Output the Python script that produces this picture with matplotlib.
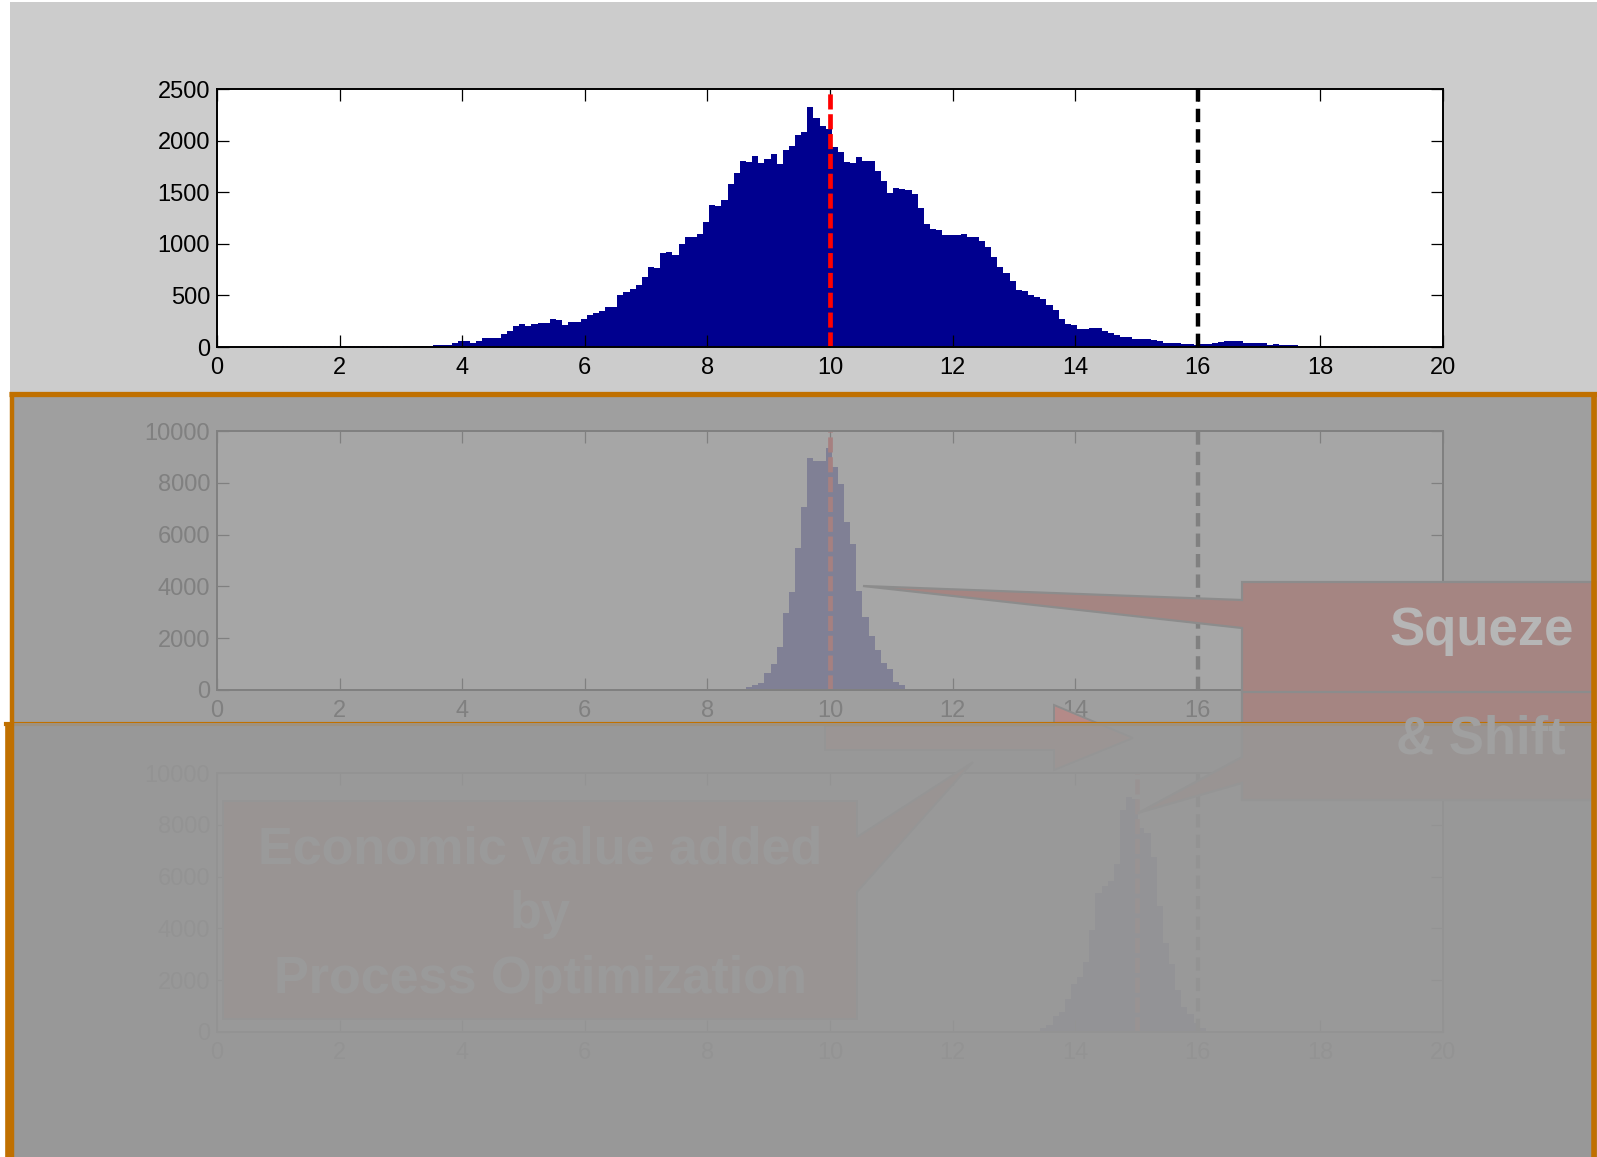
import numpy as np
import matplotlib.pyplot as plt
from matplotlib.patches import Rectangle, Polygon

plt.rcParams['font.family'] = ['Liberation Sans', 'DejaVu Sans']

# bins shared by the three histograms (width 0.1)
bin_edges = np.round(0.93 + 0.1 * np.arange(182), 2)

# current process (top panel), one count per bin
current_counts = [0] * 14 + [
    1, 1, 1, 2, 2, 3, 3, 5,
    6, 8, 10, 12, 19, 19, 20, 43, 55,
    55, 43, 55, 84, 84, 86, 130, 155, 204, 227,
    204, 227, 228, 236, 275, 264, 217, 246, 247, 275,
    314, 327, 349, 385, 386, 508, 533, 566, 605, 678,
    775, 765, 915, 925, 895, 995, 1070, 1063, 1092, 1215,
    1373, 1367, 1425, 1583, 1690, 1802, 1792, 1851, 1780, 1825,
    1870, 1777, 1909, 1948, 2058, 2084, 2325, 2216, 2145, 2116,
    1935, 1889, 1792, 1780, 1838, 1806, 1802, 1703, 1606, 1496,
    1545, 1535, 1518, 1480, 1351, 1196, 1147, 1131, 1085, 1085,
    1086, 1092, 1063, 1070, 1027, 973, 876, 779, 714, 643,
    553, 540, 501, 482, 462, 407, 359, 275, 227, 210,
    172, 172, 188, 185, 155, 133, 113, 94, 94, 81,
    81, 75, 65, 55, 43, 43, 42, 30, 26, 20,
    33, 33, 34, 48, 55, 55, 54, 43, 43, 42,
    40, 16, 29, 19, 19, 18, 8, 6, 5, 5,
    4, 3, 3, 2, 2, 1, 1, 1, 1, 1]

# squeezed process (middle panel), starting at bin 75
squeezed_first = 75
squeezed_counts = [27, 51, 116, 193, 283, 669, 1004, 1647, 2985, 3783, 5494,
                   7077, 8942, 8853, 8860, 9329, 8621, 7952, 6498, 5623, 3809,
                   2805, 2084, 1544, 1029, 798, 322, 180, 51, 51, 25, 10]

# squeezed and shifted process (bottom panel), starting at bin 124
shifted_first = 124
shifted_counts = [50, 142, 270, 618, 785, 1261, 1853, 2136, 2715, 3937, 5379,
                  5636, 5842, 6485, 8569, 9084, 8982, 7862, 7669, 6768, 4864,
                  3448, 2625, 1621, 952, 695, 335, 142, 30, 10]

targets = [10, 10, 15]
spec_limit = 16
xticks = list(range(0, 21, 2))
yticks_top = [0, 500, 1000, 1500, 2000, 2500]
yticks_low = [0, 2000, 4000, 6000, 8000, 10000]

squeeze_text = ["Squeze", "& Shift"]
value_text = ["Economic value added", "by", "Process Optimization"]


def padded(first, vals):
    c = np.zeros(len(bin_edges) - 1)
    c[first:first + len(vals)] = vals
    return c


W, H = 1597, 1157
fig = plt.figure(figsize=(W / 100, H / 100), dpi=100)

bg = fig.add_axes([0, 0, 1, 1], zorder=-1)
bg.set_xlim(0, W)
bg.set_ylim(H, 0)
bg.set_axis_off()
bg.add_patch(Rectangle((10, 2), W - 10, H, fc='#cccccc', ec='none'))

navy = (0, 0, 0.5625)
panels = [(89, 347, np.array(current_counts, float), yticks_top),
          (431, 690, padded(squeezed_first, squeezed_counts), yticks_low),
          (773, 1032, padded(shifted_first, shifted_counts), yticks_low)]

for (top, bottom, counts, yt), tgt in zip(panels, targets):
    ax = fig.add_axes([217 / W, 1 - bottom / H, 1226 / W, (bottom - top) / H], zorder=1)
    ax.set_facecolor('white')
    ax.stairs(counts, bin_edges, fill=True, color=navy, lw=0)
    ax.plot(bin_edges[[0, -1]], [0, 0], ls=(0, (1, 1.5)), color='#3a3ad8', lw=1.2)
    ax.axvline(tgt, color='red', lw=3.4, ls=(0, (3.2, 1.0)))
    ax.axvline(spec_limit, color='black', lw=3.2, ls=(0, (3.0, 1.6)))
    ax.set_xlim(0, 20)
    ax.set_ylim(0, yt[-1])
    ax.set_xticks(xticks)
    ax.set_yticks(yt)
    ax.tick_params(direction='in', top=True, right=True, length=8.6, width=0.9,
                   labelsize=17)
    ax.tick_params(axis='x', pad=7.5)
    ax.tick_params(axis='y', pad=5)
    for s in ax.spines.values():
        s.set_linewidth(1.4)

# slide overlays and callouts, in pixel coordinates
ov = fig.add_axes([0, 0, 1, 1], zorder=5)
ov.set_xlim(0, W)
ov.set_ylim(H, 0)
ov.set_axis_off()

shade = '#979797'
box_c = '#a58582'
edge_c = '#8c8c8c'
orange = '#c07000'

ov.add_patch(Rectangle((10, 393), W - 10, H - 393, fc=shade, alpha=0.85, ec='none', zorder=1))

squeeze_shape = [(1242, 582), (1605, 582), (1605, 800), (1242, 800), (1242, 783),
                 (1138, 813), (1242, 757), (1242, 628), (863, 586), (1242, 600)]
ov.add_patch(Polygon(squeeze_shape, closed=True, fc=box_c, ec=edge_c, lw=1.6, zorder=2))
ov.plot([1242, W], [692, 692], color=edge_c, lw=1.6, zorder=2)
ov.text(1482, 645, squeeze_text[0], fontsize=38, fontweight='bold', color='#b6b6b6',
        ha='center', va='baseline', zorder=2.1)
# second line is half faded in, drawn over the lower shade
ov.text(1481, 753, squeeze_text[1], fontsize=38, fontweight='bold', color='#a0a0a0',
        ha='center', va='baseline', zorder=3.5)

arrow_shape = [(825, 726), (1054, 726), (1054, 705), (1133, 738), (1054, 770),
               (1054, 750), (825, 750)]
ov.add_patch(Polygon(arrow_shape, closed=True, fc='#b48a88', ec=edge_c, lw=1.4, zorder=2))

value_shape = [(223, 801), (857, 801), (857, 837), (973, 762), (857, 892),
               (857, 1019), (223, 1019)]
ov.add_patch(Polygon(value_shape, closed=True, fc=box_c, ec=edge_c, lw=1.4, zorder=2))
for line, yb in zip(value_text, [863, 928, 993]):
    ov.text(540, yb, line, fontsize=37.5, fontweight='bold', color='#b0b0b0',
            ha='center', va='baseline', zorder=2.1)

ov.plot([6, W], [724, 724], color=orange, lw=3, zorder=2.5)
ov.add_patch(Rectangle((6, 723), W - 6, H - 723, fc=shade, alpha=0.85, ec='none', zorder=3))

# frame borders on top
ov.plot([9, W], [393.5, 393.5], color=orange, lw=3.8, zorder=4, solid_capstyle='butt')
ov.plot([11.5, 11.5], [392, H], color=orange, lw=3.2, zorder=4, solid_capstyle='butt')
ov.plot([8.5, 8.5], [722, H], color=orange, lw=5.5, zorder=4, solid_capstyle='butt')
ov.plot([1594, 1594], [392, H], color=orange, lw=4, zorder=4, solid_capstyle='butt')

fig.savefig('out.png', dpi=100)
